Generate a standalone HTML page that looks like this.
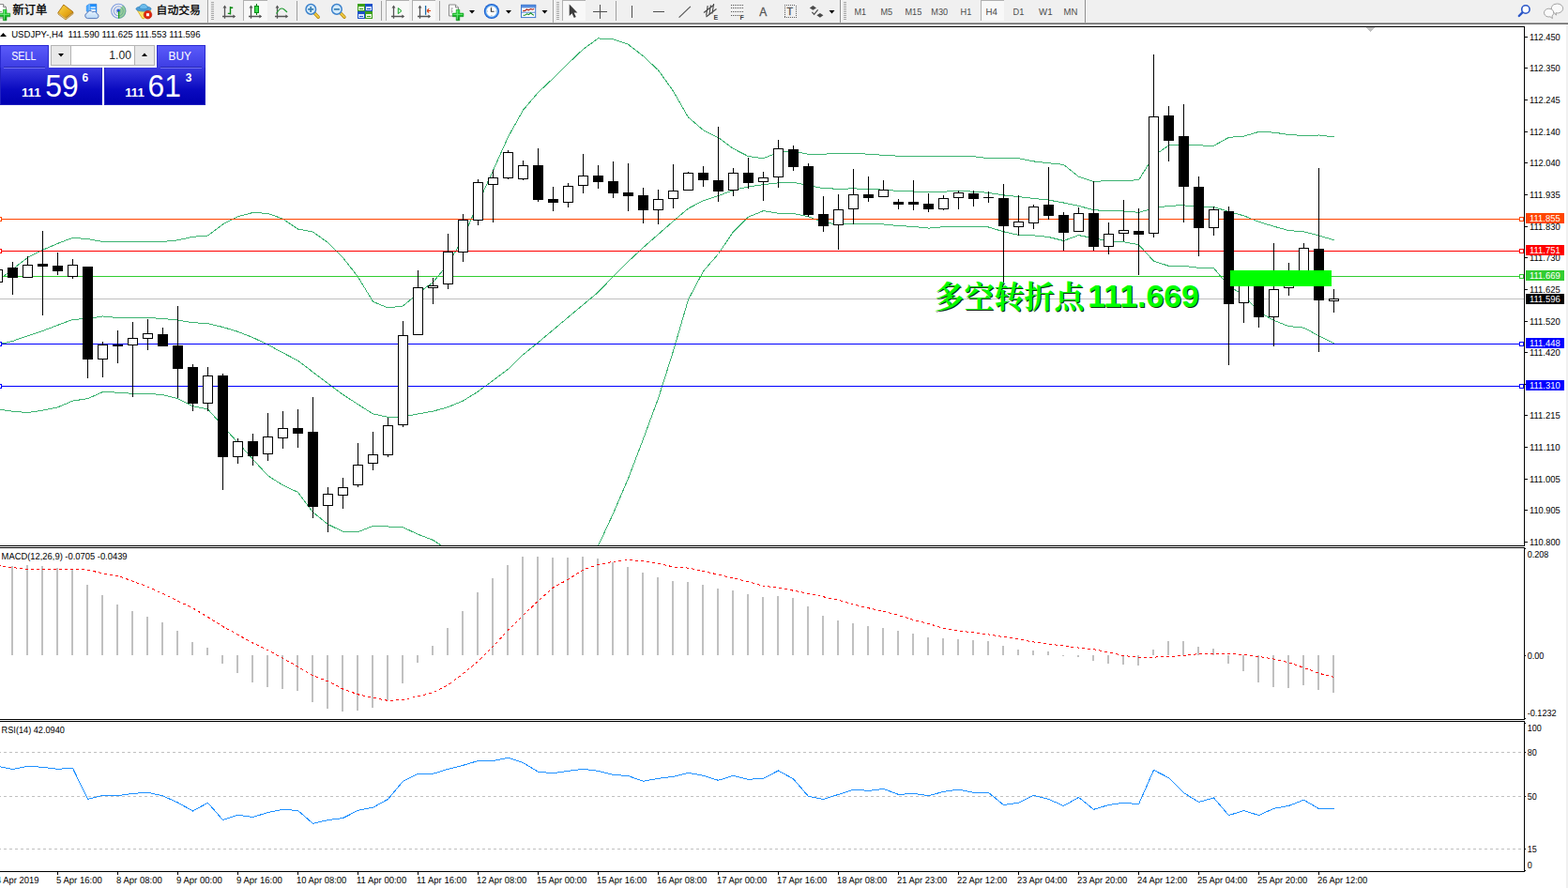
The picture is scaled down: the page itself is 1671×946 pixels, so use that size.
<!DOCTYPE html>
<html><head><meta charset="utf-8"><title>USDJPY H4</title>
<style>
html,body{margin:0;padding:0;background:#fff;overflow:hidden}
body{width:1671px;height:946px;position:relative;font-family:"Liberation Sans",sans-serif}
.t{position:absolute;font-family:"Liberation Sans",sans-serif;line-height:1;white-space:pre}
</style></head><body>
<div style="position:absolute;left:0;top:0;width:1671px;height:24px;background:#f0f0f0"></div>
<div style="position:absolute;left:0;top:24px;width:1671px;height:1px;background:#a0a0a0"></div>
<div style="position:absolute;left:0;top:25px;width:1671px;height:1px;background:#696969"></div>
<svg width="1671" height="946" viewBox="0 0 1671 946" style="position:absolute;left:0;top:0"><defs><clipPath id="cm"><rect x="0" y="29" width="1624" height="552"/></clipPath><clipPath id="c2"><rect x="0" y="584" width="1624" height="182"/></clipPath><clipPath id="c3"><rect x="0" y="769" width="1624" height="159"/></clipPath></defs><g shape-rendering="crispEdges"><rect x="0" y="28" width="1625" height="1" fill="#000"/><rect x="1624" y="28" width="1" height="554" fill="#000"/><rect x="0" y="581" width="1625" height="1" fill="#000"/><rect x="0" y="583" width="1625" height="1" fill="#000"/><rect x="1624" y="583" width="1" height="184" fill="#000"/><rect x="0" y="766" width="1625" height="1" fill="#000"/><rect x="0" y="768" width="1625" height="1" fill="#000"/><rect x="1624" y="768" width="1" height="161" fill="#000"/><rect x="0" y="928" width="1625" height="1" fill="#000"/><rect x="1669" y="26" width="2" height="920" fill="#f0f0f0"/><g clip-path="url(#cm)"><rect x="0" y="318" width="1624" height="1" fill="#C0C0C0"/><polyline points="-2.5,299.3 13.5,286.8 29.5,274.4 45.5,266.3 61.5,259.4 77.5,253.3 93.5,254.6 109.5,257.5 125.5,257.5 141.5,257.5 157.5,257.5 173.5,257.5 189.5,255.8 205.5,252.3 221.5,251.0 237.5,238.9 253.5,230.7 269.5,226.5 285.5,227.4 301.5,233.2 317.5,244.0 333.5,247.1 349.5,258.5 365.5,274.5 381.5,294.9 397.5,321.4 413.5,327.9 429.5,326.0 445.5,312.5 461.5,300.7 477.5,281.5 493.5,253.6 509.5,216.6 525.5,181.6 541.5,145.9 557.5,117.3 573.5,98.5 589.5,83.4 605.5,67.6 621.5,52.4 637.5,40.9 653.5,41.9 669.5,47.3 685.5,59.8 701.5,74.7 717.5,97.1 733.5,125.0 749.5,138.6 765.5,146.6 781.5,158.4 797.5,166.6 813.5,168.7 829.5,162.4 845.5,160.9 861.5,164.3 877.5,164.1 893.5,163.7 909.5,163.7 925.5,164.1 941.5,165.4 957.5,166.2 973.5,166.4 989.5,166.2 1005.5,166.5 1021.5,166.3 1037.5,166.6 1053.5,168.8 1069.5,168.9 1085.5,168.7 1101.5,171.9 1117.5,173.7 1133.5,175.4 1149.5,188.2 1165.5,193.5 1181.5,192.5 1197.5,192.2 1213.5,191.9 1229.5,166.1 1245.5,154.9 1261.5,154.5 1277.5,154.9 1293.5,155.3 1309.5,146.4 1325.5,145.1 1341.5,140.4 1357.5,141.1 1373.5,143.5 1389.5,144.5 1405.5,144.0 1421.5,146.0" fill="none" stroke="#3CB371" stroke-width="1"/><polyline points="-2.5,367.2 13.5,363.4 29.5,357.7 45.5,352.5 61.5,346.4 77.5,340.4 93.5,339.5 109.5,337.0 125.5,338.5 141.5,338.5 157.5,338.5 173.5,339.5 189.5,341.0 205.5,343.7 221.5,344.6 237.5,348.5 253.5,353.3 269.5,359.6 285.5,367.2 301.5,375.9 317.5,384.2 333.5,396.4 349.5,408.6 365.5,420.4 381.5,430.8 397.5,440.9 413.5,444.4 429.5,443.9 445.5,440.9 461.5,438.1 477.5,433.7 493.5,427.0 509.5,417.1 525.5,405.2 541.5,393.3 557.5,377.8 573.5,364.9 589.5,351.4 605.5,338.0 621.5,324.6 637.5,311.2 653.5,294.5 669.5,278.6 685.5,263.7 701.5,249.6 717.5,235.6 733.5,222.1 749.5,213.8 765.5,208.6 781.5,202.6 797.5,198.9 813.5,196.6 829.5,194.8 845.5,194.2 861.5,197.5 877.5,200.7 893.5,201.2 909.5,200.9 925.5,201.4 941.5,202.2 957.5,203.4 973.5,204.0 989.5,204.7 1005.5,204.1 1021.5,203.7 1037.5,204.1 1053.5,205.4 1069.5,207.9 1085.5,209.6 1101.5,211.4 1117.5,213.1 1133.5,216.0 1149.5,219.4 1165.5,223.7 1181.5,224.7 1197.5,225.0 1213.5,226.3 1229.5,222.1 1245.5,219.1 1261.5,218.9 1277.5,220.1 1293.5,220.5 1309.5,225.5 1325.5,229.8 1341.5,236.3 1357.5,241.2 1373.5,245.6 1389.5,246.8 1405.5,250.9 1421.5,255.8" fill="none" stroke="#3CB371" stroke-width="1"/><polyline points="-2.5,435.9 13.5,438.2 29.5,439.5 45.5,437.2 61.5,433.9 77.5,427.1 93.5,424.6 109.5,417.6 125.5,418.1 141.5,419.4 157.5,419.4 173.5,420.6 189.5,424.6 205.5,432.7 221.5,435.9 237.5,454.0 253.5,471.6 269.5,489.2 285.5,506.8 301.5,516.9 317.5,524.4 333.5,545.7 349.5,558.6 365.5,566.3 381.5,566.7 397.5,560.3 413.5,561.0 429.5,561.8 445.5,569.2 461.5,575.4 477.5,585.9 493.5,600.4 509.5,617.7 525.5,628.7 541.5,640.6 557.5,638.3 573.5,631.2 589.5,619.3 605.5,608.4 621.5,596.8 637.5,581.5 653.5,547.1 669.5,509.8 685.5,467.7 701.5,424.5 717.5,374.0 733.5,319.2 749.5,289.0 765.5,270.5 781.5,246.8 797.5,231.2 813.5,224.6 829.5,227.3 845.5,227.5 861.5,230.7 877.5,237.2 893.5,238.8 909.5,238.0 925.5,238.8 941.5,239.0 957.5,240.5 973.5,241.5 989.5,243.1 1005.5,241.7 1021.5,241.2 1037.5,241.7 1053.5,242.0 1069.5,246.8 1085.5,250.4 1101.5,250.8 1117.5,252.5 1133.5,256.5 1149.5,250.6 1165.5,253.8 1181.5,256.9 1197.5,257.8 1213.5,260.7 1229.5,278.2 1245.5,283.3 1261.5,283.3 1277.5,285.3 1293.5,285.7 1309.5,304.6 1325.5,314.5 1341.5,332.3 1357.5,341.4 1373.5,347.6 1389.5,349.1 1405.5,357.8 1421.5,365.6" fill="none" stroke="#3CB371" stroke-width="1"/><rect x="0" y="233" width="1624" height="1" fill="#FF4500"/><rect x="0" y="267" width="1624" height="1" fill="#FF0000"/><rect x="0" y="294" width="1624" height="1" fill="#32CD32"/><rect x="0" y="366" width="1624" height="1" fill="#0000FF"/><rect x="0" y="411" width="1624" height="1" fill="#0000FF"/><rect x="-3" y="283" width="1" height="22" fill="#000"/><rect x="-8" y="287" width="11" height="14" fill="#000"/><rect x="-7" y="288" width="9" height="12" fill="#fff"/><rect x="13" y="279" width="1" height="35" fill="#000"/><rect x="8" y="285" width="11" height="11" fill="#000"/><rect x="29" y="273" width="1" height="23" fill="#000"/><rect x="24" y="282" width="11" height="14" fill="#000"/><rect x="25" y="283" width="9" height="12" fill="#fff"/><rect x="45" y="246" width="1" height="90" fill="#000"/><rect x="40" y="281" width="11" height="3" fill="#000"/><rect x="61" y="269" width="1" height="24" fill="#000"/><rect x="56" y="283" width="11" height="6" fill="#000"/><rect x="77" y="276" width="1" height="21" fill="#000"/><rect x="72" y="282" width="11" height="13" fill="#000"/><rect x="73" y="283" width="9" height="11" fill="#fff"/><rect x="93" y="284" width="1" height="119" fill="#000"/><rect x="88" y="284" width="11" height="99" fill="#000"/><rect x="109" y="364" width="1" height="38" fill="#000"/><rect x="104" y="367" width="11" height="16" fill="#000"/><rect x="105" y="368" width="9" height="14" fill="#fff"/><rect x="125" y="352" width="1" height="35" fill="#000"/><rect x="120" y="367" width="11" height="2" fill="#000"/><rect x="141" y="343" width="1" height="80" fill="#000"/><rect x="136" y="360" width="11" height="8" fill="#000"/><rect x="137" y="361" width="9" height="6" fill="#fff"/><rect x="157" y="340" width="1" height="33" fill="#000"/><rect x="152" y="355" width="11" height="6" fill="#000"/><rect x="153" y="356" width="9" height="4" fill="#fff"/><rect x="173" y="349" width="1" height="20" fill="#000"/><rect x="168" y="356" width="11" height="13" fill="#000"/><rect x="189" y="326" width="1" height="98" fill="#000"/><rect x="184" y="368" width="11" height="25" fill="#000"/><rect x="205" y="388" width="1" height="50" fill="#000"/><rect x="200" y="391" width="11" height="39" fill="#000"/><rect x="221" y="391" width="1" height="47" fill="#000"/><rect x="216" y="400" width="11" height="30" fill="#000"/><rect x="217" y="401" width="9" height="28" fill="#fff"/><rect x="237" y="398" width="1" height="124" fill="#000"/><rect x="232" y="400" width="11" height="87" fill="#000"/><rect x="253" y="467" width="1" height="27" fill="#000"/><rect x="248" y="470" width="11" height="17" fill="#000"/><rect x="249" y="471" width="9" height="15" fill="#fff"/><rect x="269" y="462" width="1" height="34" fill="#000"/><rect x="264" y="470" width="11" height="16" fill="#000"/><rect x="285" y="440" width="1" height="51" fill="#000"/><rect x="280" y="465" width="11" height="19" fill="#000"/><rect x="281" y="466" width="9" height="17" fill="#fff"/><rect x="301" y="438" width="1" height="40" fill="#000"/><rect x="296" y="456" width="11" height="11" fill="#000"/><rect x="297" y="457" width="9" height="9" fill="#fff"/><rect x="317" y="436" width="1" height="41" fill="#000"/><rect x="312" y="456" width="11" height="6" fill="#000"/><rect x="333" y="423" width="1" height="129" fill="#000"/><rect x="328" y="460" width="11" height="80" fill="#000"/><rect x="349" y="519" width="1" height="48" fill="#000"/><rect x="344" y="526" width="11" height="13" fill="#000"/><rect x="345" y="527" width="9" height="11" fill="#fff"/><rect x="365" y="509" width="1" height="33" fill="#000"/><rect x="360" y="519" width="11" height="9" fill="#000"/><rect x="361" y="520" width="9" height="7" fill="#fff"/><rect x="381" y="472" width="1" height="47" fill="#000"/><rect x="376" y="495" width="11" height="22" fill="#000"/><rect x="377" y="496" width="9" height="20" fill="#fff"/><rect x="397" y="460" width="1" height="41" fill="#000"/><rect x="392" y="484" width="11" height="10" fill="#000"/><rect x="393" y="485" width="9" height="8" fill="#fff"/><rect x="413" y="445" width="1" height="42" fill="#000"/><rect x="408" y="453" width="11" height="32" fill="#000"/><rect x="409" y="454" width="9" height="30" fill="#fff"/><rect x="429" y="342" width="1" height="113" fill="#000"/><rect x="424" y="357" width="11" height="96" fill="#000"/><rect x="425" y="358" width="9" height="94" fill="#fff"/><rect x="445" y="288" width="1" height="69" fill="#000"/><rect x="440" y="306" width="11" height="51" fill="#000"/><rect x="441" y="307" width="9" height="49" fill="#fff"/><rect x="461" y="296" width="1" height="28" fill="#000"/><rect x="456" y="304" width="11" height="3" fill="#000"/><rect x="457" y="305" width="9" height="1" fill="#fff"/><rect x="477" y="249" width="1" height="59" fill="#000"/><rect x="472" y="268" width="11" height="35" fill="#000"/><rect x="473" y="269" width="9" height="33" fill="#fff"/><rect x="493" y="228" width="1" height="51" fill="#000"/><rect x="488" y="234" width="11" height="35" fill="#000"/><rect x="489" y="235" width="9" height="33" fill="#fff"/><rect x="509" y="191" width="1" height="49" fill="#000"/><rect x="504" y="194" width="11" height="41" fill="#000"/><rect x="505" y="195" width="9" height="39" fill="#fff"/><rect x="525" y="181" width="1" height="56" fill="#000"/><rect x="520" y="189" width="11" height="8" fill="#000"/><rect x="521" y="190" width="9" height="6" fill="#fff"/><rect x="541" y="160" width="1" height="31" fill="#000"/><rect x="536" y="162" width="11" height="28" fill="#000"/><rect x="537" y="163" width="9" height="26" fill="#fff"/><rect x="557" y="171" width="1" height="21" fill="#000"/><rect x="552" y="176" width="11" height="15" fill="#000"/><rect x="553" y="177" width="9" height="13" fill="#fff"/><rect x="573" y="158" width="1" height="57" fill="#000"/><rect x="568" y="176" width="11" height="37" fill="#000"/><rect x="589" y="199" width="1" height="26" fill="#000"/><rect x="584" y="212" width="11" height="4" fill="#000"/><rect x="605" y="195" width="1" height="26" fill="#000"/><rect x="600" y="198" width="11" height="18" fill="#000"/><rect x="601" y="199" width="9" height="16" fill="#fff"/><rect x="621" y="164" width="1" height="42" fill="#000"/><rect x="616" y="187" width="11" height="11" fill="#000"/><rect x="617" y="188" width="9" height="9" fill="#fff"/><rect x="637" y="176" width="1" height="25" fill="#000"/><rect x="632" y="187" width="11" height="7" fill="#000"/><rect x="653" y="172" width="1" height="39" fill="#000"/><rect x="648" y="193" width="11" height="13" fill="#000"/><rect x="669" y="174" width="1" height="51" fill="#000"/><rect x="664" y="205" width="11" height="4" fill="#000"/><rect x="685" y="200" width="1" height="38" fill="#000"/><rect x="680" y="208" width="11" height="16" fill="#000"/><rect x="701" y="202" width="1" height="37" fill="#000"/><rect x="696" y="212" width="11" height="12" fill="#000"/><rect x="697" y="213" width="9" height="10" fill="#fff"/><rect x="717" y="175" width="1" height="47" fill="#000"/><rect x="712" y="203" width="11" height="9" fill="#000"/><rect x="713" y="204" width="9" height="7" fill="#fff"/><rect x="733" y="183" width="1" height="20" fill="#000"/><rect x="728" y="184" width="11" height="19" fill="#000"/><rect x="729" y="185" width="9" height="17" fill="#fff"/><rect x="749" y="177" width="1" height="22" fill="#000"/><rect x="744" y="184" width="11" height="8" fill="#000"/><rect x="765" y="135" width="1" height="80" fill="#000"/><rect x="760" y="192" width="11" height="12" fill="#000"/><rect x="781" y="179" width="1" height="30" fill="#000"/><rect x="776" y="184" width="11" height="19" fill="#000"/><rect x="777" y="185" width="9" height="17" fill="#fff"/><rect x="797" y="168" width="1" height="33" fill="#000"/><rect x="792" y="184" width="11" height="11" fill="#000"/><rect x="813" y="183" width="1" height="31" fill="#000"/><rect x="808" y="189" width="11" height="5" fill="#000"/><rect x="809" y="190" width="9" height="3" fill="#fff"/><rect x="829" y="149" width="1" height="51" fill="#000"/><rect x="824" y="158" width="11" height="31" fill="#000"/><rect x="825" y="159" width="9" height="29" fill="#fff"/><rect x="845" y="155" width="1" height="27" fill="#000"/><rect x="840" y="159" width="11" height="19" fill="#000"/><rect x="861" y="174" width="1" height="57" fill="#000"/><rect x="856" y="177" width="11" height="52" fill="#000"/><rect x="877" y="209" width="1" height="38" fill="#000"/><rect x="872" y="228" width="11" height="13" fill="#000"/><rect x="893" y="207" width="1" height="59" fill="#000"/><rect x="888" y="223" width="11" height="17" fill="#000"/><rect x="889" y="224" width="9" height="15" fill="#fff"/><rect x="909" y="180" width="1" height="59" fill="#000"/><rect x="904" y="207" width="11" height="16" fill="#000"/><rect x="905" y="208" width="9" height="14" fill="#fff"/><rect x="925" y="188" width="1" height="27" fill="#000"/><rect x="920" y="207" width="11" height="4" fill="#000"/><rect x="941" y="192" width="1" height="18" fill="#000"/><rect x="936" y="202" width="11" height="8" fill="#000"/><rect x="937" y="203" width="9" height="6" fill="#fff"/><rect x="957" y="212" width="1" height="11" fill="#000"/><rect x="952" y="215" width="11" height="3" fill="#000"/><rect x="973" y="192" width="1" height="32" fill="#000"/><rect x="968" y="215" width="11" height="3" fill="#000"/><rect x="989" y="206" width="1" height="20" fill="#000"/><rect x="984" y="217" width="11" height="6" fill="#000"/><rect x="1005" y="208" width="1" height="16" fill="#000"/><rect x="1000" y="211" width="11" height="12" fill="#000"/><rect x="1001" y="212" width="9" height="10" fill="#fff"/><rect x="1021" y="203" width="1" height="20" fill="#000"/><rect x="1016" y="205" width="11" height="6" fill="#000"/><rect x="1017" y="206" width="9" height="4" fill="#fff"/><rect x="1037" y="203" width="1" height="17" fill="#000"/><rect x="1032" y="206" width="11" height="6" fill="#000"/><rect x="1053" y="204" width="1" height="12" fill="#000"/><rect x="1048" y="210" width="11" height="1" fill="#000"/><rect x="1069" y="196" width="1" height="105" fill="#000"/><rect x="1064" y="211" width="11" height="30" fill="#000"/><rect x="1085" y="208" width="1" height="43" fill="#000"/><rect x="1080" y="236" width="11" height="6" fill="#000"/><rect x="1081" y="237" width="9" height="4" fill="#fff"/><rect x="1101" y="218" width="1" height="26" fill="#000"/><rect x="1096" y="220" width="11" height="18" fill="#000"/><rect x="1097" y="221" width="9" height="16" fill="#fff"/><rect x="1117" y="178" width="1" height="56" fill="#000"/><rect x="1112" y="218" width="11" height="12" fill="#000"/><rect x="1133" y="226" width="1" height="41" fill="#000"/><rect x="1128" y="229" width="11" height="19" fill="#000"/><rect x="1149" y="221" width="1" height="26" fill="#000"/><rect x="1144" y="227" width="11" height="20" fill="#000"/><rect x="1145" y="228" width="9" height="18" fill="#fff"/><rect x="1165" y="193" width="1" height="74" fill="#000"/><rect x="1160" y="227" width="11" height="36" fill="#000"/><rect x="1181" y="237" width="1" height="34" fill="#000"/><rect x="1176" y="249" width="11" height="14" fill="#000"/><rect x="1177" y="250" width="9" height="12" fill="#fff"/><rect x="1197" y="213" width="1" height="44" fill="#000"/><rect x="1192" y="245" width="11" height="4" fill="#000"/><rect x="1193" y="246" width="9" height="2" fill="#fff"/><rect x="1213" y="222" width="1" height="71" fill="#000"/><rect x="1208" y="246" width="11" height="4" fill="#000"/><rect x="1229" y="58" width="1" height="195" fill="#000"/><rect x="1224" y="124" width="11" height="125" fill="#000"/><rect x="1225" y="125" width="9" height="123" fill="#fff"/><rect x="1245" y="113" width="1" height="59" fill="#000"/><rect x="1240" y="123" width="11" height="27" fill="#000"/><rect x="1261" y="111" width="1" height="126" fill="#000"/><rect x="1256" y="145" width="11" height="54" fill="#000"/><rect x="1277" y="188" width="1" height="85" fill="#000"/><rect x="1272" y="199" width="11" height="44" fill="#000"/><rect x="1293" y="220" width="1" height="31" fill="#000"/><rect x="1288" y="223" width="11" height="20" fill="#000"/><rect x="1289" y="224" width="9" height="18" fill="#fff"/><rect x="1309" y="220" width="1" height="169" fill="#000"/><rect x="1304" y="225" width="11" height="99" fill="#000"/><rect x="1325" y="297" width="1" height="47" fill="#000"/><rect x="1320" y="297" width="11" height="26" fill="#000"/><rect x="1321" y="298" width="9" height="24" fill="#fff"/><rect x="1341" y="296" width="1" height="53" fill="#000"/><rect x="1336" y="296" width="11" height="42" fill="#000"/><rect x="1357" y="259" width="1" height="110" fill="#000"/><rect x="1352" y="308" width="11" height="30" fill="#000"/><rect x="1353" y="309" width="9" height="28" fill="#fff"/><rect x="1373" y="280" width="1" height="35" fill="#000"/><rect x="1368" y="297" width="11" height="10" fill="#000"/><rect x="1369" y="298" width="9" height="8" fill="#fff"/><rect x="1389" y="259" width="1" height="39" fill="#000"/><rect x="1384" y="264" width="11" height="34" fill="#000"/><rect x="1385" y="265" width="9" height="32" fill="#fff"/><rect x="1405" y="179" width="1" height="196" fill="#000"/><rect x="1400" y="265" width="11" height="55" fill="#000"/><rect x="1421" y="308" width="1" height="25" fill="#000"/><rect x="1416" y="318" width="11" height="3" fill="#000"/><rect x="1417" y="319" width="9" height="1" fill="#fff"/><rect x="-3" y="231" width="5" height="5" fill="#FF4500"/><rect x="-2" y="232" width="3" height="3" fill="#fff"/><rect x="1619" y="231" width="5" height="5" fill="#FF4500"/><rect x="1620" y="232" width="3" height="3" fill="#fff"/><rect x="-3" y="265" width="5" height="5" fill="#FF0000"/><rect x="-2" y="266" width="3" height="3" fill="#fff"/><rect x="1619" y="265" width="5" height="5" fill="#FF0000"/><rect x="1620" y="266" width="3" height="3" fill="#fff"/><rect x="1619" y="292" width="5" height="5" fill="#32CD32"/><rect x="1620" y="293" width="3" height="3" fill="#fff"/><rect x="-3" y="364" width="5" height="5" fill="#0000FF"/><rect x="-2" y="365" width="3" height="3" fill="#fff"/><rect x="1619" y="364" width="5" height="5" fill="#0000FF"/><rect x="1620" y="365" width="3" height="3" fill="#fff"/><rect x="-3" y="409" width="5" height="5" fill="#0000FF"/><rect x="-2" y="410" width="3" height="3" fill="#fff"/><rect x="1619" y="409" width="5" height="5" fill="#0000FF"/><rect x="1620" y="410" width="3" height="3" fill="#fff"/><rect x="1311" y="288" width="108" height="17" fill="#00FF00"/></g><rect x="1456" y="29" width="9" height="1" fill="#C0C0C0"/><rect x="1457" y="30" width="7" height="1" fill="#C0C0C0"/><rect x="1458" y="31" width="5" height="1" fill="#C0C0C0"/><rect x="1459" y="32" width="3" height="1" fill="#C0C0C0"/><rect x="1460" y="33" width="1" height="1" fill="#C0C0C0"/></g><g font-family="Liberation Sans, sans-serif" font-size="10.1" fill="#000" style="text-rendering:geometricPrecision"><rect x="1625" y="39" width="3" height="1" fill="#000" shape-rendering="crispEdges"/><text x="1630" y="43" textLength="32.7" lengthAdjust="spacingAndGlyphs" xml:space="preserve">112.450</text><rect x="1625" y="72" width="3" height="1" fill="#000" shape-rendering="crispEdges"/><text x="1630" y="76" textLength="32.7" lengthAdjust="spacingAndGlyphs" xml:space="preserve">112.350</text><rect x="1625" y="106" width="3" height="1" fill="#000" shape-rendering="crispEdges"/><text x="1630" y="110" textLength="32.7" lengthAdjust="spacingAndGlyphs" xml:space="preserve">112.245</text><rect x="1625" y="140" width="3" height="1" fill="#000" shape-rendering="crispEdges"/><text x="1630" y="144" textLength="32.7" lengthAdjust="spacingAndGlyphs" xml:space="preserve">112.140</text><rect x="1625" y="173" width="3" height="1" fill="#000" shape-rendering="crispEdges"/><text x="1630" y="177" textLength="32.7" lengthAdjust="spacingAndGlyphs" xml:space="preserve">112.040</text><rect x="1625" y="207" width="3" height="1" fill="#000" shape-rendering="crispEdges"/><text x="1630" y="211" textLength="32.7" lengthAdjust="spacingAndGlyphs" xml:space="preserve">111.935</text><rect x="1625" y="241" width="3" height="1" fill="#000" shape-rendering="crispEdges"/><text x="1630" y="245" textLength="32.7" lengthAdjust="spacingAndGlyphs" xml:space="preserve">111.830</text><rect x="1625" y="274" width="3" height="1" fill="#000" shape-rendering="crispEdges"/><text x="1630" y="278" textLength="32.7" lengthAdjust="spacingAndGlyphs" xml:space="preserve">111.730</text><rect x="1625" y="308" width="3" height="1" fill="#000" shape-rendering="crispEdges"/><text x="1630" y="312" textLength="32.7" lengthAdjust="spacingAndGlyphs" xml:space="preserve">111.625</text><rect x="1625" y="342" width="3" height="1" fill="#000" shape-rendering="crispEdges"/><text x="1630" y="346" textLength="32.7" lengthAdjust="spacingAndGlyphs" xml:space="preserve">111.520</text><rect x="1625" y="375" width="3" height="1" fill="#000" shape-rendering="crispEdges"/><text x="1630" y="379" textLength="32.7" lengthAdjust="spacingAndGlyphs" xml:space="preserve">111.420</text><rect x="1625" y="409" width="3" height="1" fill="#000" shape-rendering="crispEdges"/><text x="1630" y="413" textLength="32.7" lengthAdjust="spacingAndGlyphs" xml:space="preserve">111.315</text><rect x="1625" y="442" width="3" height="1" fill="#000" shape-rendering="crispEdges"/><text x="1630" y="446" textLength="32.7" lengthAdjust="spacingAndGlyphs" xml:space="preserve">111.215</text><rect x="1625" y="476" width="3" height="1" fill="#000" shape-rendering="crispEdges"/><text x="1630" y="480" textLength="32.7" lengthAdjust="spacingAndGlyphs" xml:space="preserve">111.110</text><rect x="1625" y="510" width="3" height="1" fill="#000" shape-rendering="crispEdges"/><text x="1630" y="514" textLength="32.7" lengthAdjust="spacingAndGlyphs" xml:space="preserve">111.005</text><rect x="1625" y="543" width="3" height="1" fill="#000" shape-rendering="crispEdges"/><text x="1630" y="547" textLength="32.7" lengthAdjust="spacingAndGlyphs" xml:space="preserve">110.905</text><rect x="1625" y="577" width="3" height="1" fill="#000" shape-rendering="crispEdges"/><text x="1630" y="581" textLength="32.7" lengthAdjust="spacingAndGlyphs" xml:space="preserve">110.800</text><rect x="1626" y="227" width="41" height="11" fill="#FF4500" shape-rendering="crispEdges"/><text x="1630" y="236" textLength="32.7" lengthAdjust="spacingAndGlyphs" fill="#fff" xml:space="preserve">111.855</text><rect x="1626" y="261" width="41" height="11" fill="#FF0000" shape-rendering="crispEdges"/><text x="1630" y="270" textLength="32.7" lengthAdjust="spacingAndGlyphs" fill="#fff" xml:space="preserve">111.751</text><rect x="1626" y="288" width="41" height="11" fill="#32CD32" shape-rendering="crispEdges"/><text x="1630" y="297" textLength="32.7" lengthAdjust="spacingAndGlyphs" fill="#fff" xml:space="preserve">111.669</text><rect x="1626" y="360" width="41" height="11" fill="#0000FF" shape-rendering="crispEdges"/><text x="1630" y="369" textLength="32.7" lengthAdjust="spacingAndGlyphs" fill="#fff" xml:space="preserve">111.448</text><rect x="1626" y="405" width="41" height="11" fill="#0000FF" shape-rendering="crispEdges"/><text x="1630" y="414" textLength="32.7" lengthAdjust="spacingAndGlyphs" fill="#fff" xml:space="preserve">111.310</text><rect x="1626" y="313" width="41" height="11" fill="#000000" shape-rendering="crispEdges"/><text x="1630" y="322" textLength="32.7" lengthAdjust="spacingAndGlyphs" fill="#fff" xml:space="preserve">111.596</text><text x="1627.7" y="594" textLength="22.7" lengthAdjust="spacingAndGlyphs" xml:space="preserve">0.208</text><text x="1627.7" y="702" textLength="17.7" lengthAdjust="spacingAndGlyphs" xml:space="preserve">0.00</text><text x="1627.7" y="763" textLength="31.0" lengthAdjust="spacingAndGlyphs" xml:space="preserve">-0.1232</text><text x="1627.7" y="779" textLength="15.0" lengthAdjust="spacingAndGlyphs" xml:space="preserve">100</text><text x="1627.7" y="805" textLength="10.0" lengthAdjust="spacingAndGlyphs" xml:space="preserve">80</text><text x="1627.7" y="852" textLength="10.0" lengthAdjust="spacingAndGlyphs" xml:space="preserve">50</text><text x="1627.7" y="908" textLength="10.0" lengthAdjust="spacingAndGlyphs" xml:space="preserve">15</text><text x="1627.7" y="925" textLength="5.0" lengthAdjust="spacingAndGlyphs" xml:space="preserve">0</text><rect x="1625" y="584" width="1" height="1" fill="#000" shape-rendering="crispEdges"/><rect x="1625" y="698" width="1" height="1" fill="#000" shape-rendering="crispEdges"/><rect x="1625" y="765" width="1" height="1" fill="#000" shape-rendering="crispEdges"/><rect x="1625" y="770" width="1" height="1" fill="#000" shape-rendering="crispEdges"/><rect x="1625" y="801" width="1" height="1" fill="#000" shape-rendering="crispEdges"/><rect x="1625" y="848" width="1" height="1" fill="#000" shape-rendering="crispEdges"/><rect x="1625" y="904" width="1" height="1" fill="#000" shape-rendering="crispEdges"/><rect x="1625" y="927" width="1" height="1" fill="#000" shape-rendering="crispEdges"/><path d="M0 39 L3.5 35 L7 39 Z" fill="#000"/><text x="12.2" y="40" textLength="201.3" lengthAdjust="spacingAndGlyphs" xml:space="preserve">USDJPY-,H4  111.590 111.625 111.553 111.596</text><text x="1.6" y="596" textLength="134" lengthAdjust="spacingAndGlyphs" xml:space="preserve">MACD(12,26,9) -0.0705 -0.0439</text><text x="1.6" y="781" textLength="67.3" lengthAdjust="spacingAndGlyphs" xml:space="preserve">RSI(14) 42.0940</text><rect x="-3" y="929" width="1" height="3" fill="#000" shape-rendering="crispEdges"/><text x="-4" y="941" textLength="45.5" lengthAdjust="spacingAndGlyphs" xml:space="preserve">4 Apr 2019</text><rect x="61" y="929" width="1" height="3" fill="#000" shape-rendering="crispEdges"/><text x="60" y="941" textLength="48.8" lengthAdjust="spacingAndGlyphs" xml:space="preserve">5 Apr 16:00</text><rect x="125" y="929" width="1" height="3" fill="#000" shape-rendering="crispEdges"/><text x="124" y="941" textLength="48.8" lengthAdjust="spacingAndGlyphs" xml:space="preserve">8 Apr 08:00</text><rect x="189" y="929" width="1" height="3" fill="#000" shape-rendering="crispEdges"/><text x="188" y="941" textLength="48.8" lengthAdjust="spacingAndGlyphs" xml:space="preserve">9 Apr 00:00</text><rect x="253" y="929" width="1" height="3" fill="#000" shape-rendering="crispEdges"/><text x="252" y="941" textLength="48.8" lengthAdjust="spacingAndGlyphs" xml:space="preserve">9 Apr 16:00</text><rect x="317" y="929" width="1" height="3" fill="#000" shape-rendering="crispEdges"/><text x="316" y="941" textLength="53.2" lengthAdjust="spacingAndGlyphs" xml:space="preserve">10 Apr 08:00</text><rect x="381" y="929" width="1" height="3" fill="#000" shape-rendering="crispEdges"/><text x="380" y="941" textLength="53.2" lengthAdjust="spacingAndGlyphs" xml:space="preserve">11 Apr 00:00</text><rect x="445" y="929" width="1" height="3" fill="#000" shape-rendering="crispEdges"/><text x="444" y="941" textLength="53.2" lengthAdjust="spacingAndGlyphs" xml:space="preserve">11 Apr 16:00</text><rect x="509" y="929" width="1" height="3" fill="#000" shape-rendering="crispEdges"/><text x="508" y="941" textLength="53.2" lengthAdjust="spacingAndGlyphs" xml:space="preserve">12 Apr 08:00</text><rect x="573" y="929" width="1" height="3" fill="#000" shape-rendering="crispEdges"/><text x="572" y="941" textLength="53.2" lengthAdjust="spacingAndGlyphs" xml:space="preserve">15 Apr 00:00</text><rect x="637" y="929" width="1" height="3" fill="#000" shape-rendering="crispEdges"/><text x="636" y="941" textLength="53.2" lengthAdjust="spacingAndGlyphs" xml:space="preserve">15 Apr 16:00</text><rect x="701" y="929" width="1" height="3" fill="#000" shape-rendering="crispEdges"/><text x="700" y="941" textLength="53.2" lengthAdjust="spacingAndGlyphs" xml:space="preserve">16 Apr 08:00</text><rect x="765" y="929" width="1" height="3" fill="#000" shape-rendering="crispEdges"/><text x="764" y="941" textLength="53.2" lengthAdjust="spacingAndGlyphs" xml:space="preserve">17 Apr 00:00</text><rect x="829" y="929" width="1" height="3" fill="#000" shape-rendering="crispEdges"/><text x="828" y="941" textLength="53.2" lengthAdjust="spacingAndGlyphs" xml:space="preserve">17 Apr 16:00</text><rect x="893" y="929" width="1" height="3" fill="#000" shape-rendering="crispEdges"/><text x="892" y="941" textLength="53.2" lengthAdjust="spacingAndGlyphs" xml:space="preserve">18 Apr 08:00</text><rect x="957" y="929" width="1" height="3" fill="#000" shape-rendering="crispEdges"/><text x="956" y="941" textLength="53.2" lengthAdjust="spacingAndGlyphs" xml:space="preserve">21 Apr 23:00</text><rect x="1021" y="929" width="1" height="3" fill="#000" shape-rendering="crispEdges"/><text x="1020" y="941" textLength="53.2" lengthAdjust="spacingAndGlyphs" xml:space="preserve">22 Apr 12:00</text><rect x="1085" y="929" width="1" height="3" fill="#000" shape-rendering="crispEdges"/><text x="1084" y="941" textLength="53.2" lengthAdjust="spacingAndGlyphs" xml:space="preserve">23 Apr 04:00</text><rect x="1149" y="929" width="1" height="3" fill="#000" shape-rendering="crispEdges"/><text x="1148" y="941" textLength="53.2" lengthAdjust="spacingAndGlyphs" xml:space="preserve">23 Apr 20:00</text><rect x="1213" y="929" width="1" height="3" fill="#000" shape-rendering="crispEdges"/><text x="1212" y="941" textLength="53.2" lengthAdjust="spacingAndGlyphs" xml:space="preserve">24 Apr 12:00</text><rect x="1277" y="929" width="1" height="3" fill="#000" shape-rendering="crispEdges"/><text x="1276" y="941" textLength="53.2" lengthAdjust="spacingAndGlyphs" xml:space="preserve">25 Apr 04:00</text><rect x="1341" y="929" width="1" height="3" fill="#000" shape-rendering="crispEdges"/><text x="1340" y="941" textLength="53.2" lengthAdjust="spacingAndGlyphs" xml:space="preserve">25 Apr 20:00</text><rect x="1405" y="929" width="1" height="3" fill="#000" shape-rendering="crispEdges"/><text x="1404" y="941" textLength="53.2" lengthAdjust="spacingAndGlyphs" xml:space="preserve">26 Apr 12:00</text></g><g shape-rendering="crispEdges" clip-path="url(#c2)"><rect x="12" y="603" width="2" height="95" fill="#C0C0C0"/><rect x="28" y="602" width="2" height="96" fill="#C0C0C0"/><rect x="44" y="603" width="2" height="95" fill="#C0C0C0"/><rect x="60" y="605" width="2" height="93" fill="#C0C0C0"/><rect x="76" y="606" width="2" height="92" fill="#C0C0C0"/><rect x="92" y="623" width="2" height="75" fill="#C0C0C0"/><rect x="108" y="634" width="2" height="64" fill="#C0C0C0"/><rect x="124" y="644" width="2" height="54" fill="#C0C0C0"/><rect x="140" y="651" width="2" height="47" fill="#C0C0C0"/><rect x="156" y="657" width="2" height="41" fill="#C0C0C0"/><rect x="172" y="663" width="2" height="35" fill="#C0C0C0"/><rect x="188" y="672" width="2" height="26" fill="#C0C0C0"/><rect x="204" y="684" width="2" height="14" fill="#C0C0C0"/><rect x="220" y="690" width="2" height="8" fill="#C0C0C0"/><rect x="236" y="698" width="2" height="9" fill="#C0C0C0"/><rect x="252" y="698" width="2" height="19" fill="#C0C0C0"/><rect x="268" y="698" width="2" height="29" fill="#C0C0C0"/><rect x="284" y="698" width="2" height="34" fill="#C0C0C0"/><rect x="300" y="698" width="2" height="36" fill="#C0C0C0"/><rect x="316" y="698" width="2" height="38" fill="#C0C0C0"/><rect x="332" y="698" width="2" height="50" fill="#C0C0C0"/><rect x="348" y="698" width="2" height="57" fill="#C0C0C0"/><rect x="364" y="698" width="2" height="60" fill="#C0C0C0"/><rect x="380" y="698" width="2" height="59" fill="#C0C0C0"/><rect x="396" y="698" width="2" height="56" fill="#C0C0C0"/><rect x="412" y="698" width="2" height="48" fill="#C0C0C0"/><rect x="428" y="698" width="2" height="30" fill="#C0C0C0"/><rect x="444" y="698" width="2" height="8" fill="#C0C0C0"/><rect x="460" y="688" width="2" height="10" fill="#C0C0C0"/><rect x="476" y="669" width="2" height="29" fill="#C0C0C0"/><rect x="492" y="651" width="2" height="47" fill="#C0C0C0"/><rect x="508" y="631" width="2" height="67" fill="#C0C0C0"/><rect x="524" y="616" width="2" height="82" fill="#C0C0C0"/><rect x="540" y="602" width="2" height="96" fill="#C0C0C0"/><rect x="556" y="593" width="2" height="105" fill="#C0C0C0"/><rect x="572" y="593" width="2" height="105" fill="#C0C0C0"/><rect x="588" y="594" width="2" height="104" fill="#C0C0C0"/><rect x="604" y="594" width="2" height="104" fill="#C0C0C0"/><rect x="620" y="593" width="2" height="105" fill="#C0C0C0"/><rect x="636" y="595" width="2" height="103" fill="#C0C0C0"/><rect x="652" y="599" width="2" height="99" fill="#C0C0C0"/><rect x="668" y="604" width="2" height="94" fill="#C0C0C0"/><rect x="684" y="610" width="2" height="88" fill="#C0C0C0"/><rect x="700" y="615" width="2" height="83" fill="#C0C0C0"/><rect x="716" y="619" width="2" height="79" fill="#C0C0C0"/><rect x="732" y="620" width="2" height="78" fill="#C0C0C0"/><rect x="748" y="623" width="2" height="75" fill="#C0C0C0"/><rect x="764" y="627" width="2" height="71" fill="#C0C0C0"/><rect x="780" y="629" width="2" height="69" fill="#C0C0C0"/><rect x="796" y="633" width="2" height="65" fill="#C0C0C0"/><rect x="812" y="636" width="2" height="62" fill="#C0C0C0"/><rect x="828" y="635" width="2" height="63" fill="#C0C0C0"/><rect x="844" y="637" width="2" height="61" fill="#C0C0C0"/><rect x="860" y="646" width="2" height="52" fill="#C0C0C0"/><rect x="876" y="656" width="2" height="42" fill="#C0C0C0"/><rect x="892" y="661" width="2" height="37" fill="#C0C0C0"/><rect x="908" y="664" width="2" height="34" fill="#C0C0C0"/><rect x="924" y="667" width="2" height="31" fill="#C0C0C0"/><rect x="940" y="669" width="2" height="29" fill="#C0C0C0"/><rect x="956" y="672" width="2" height="26" fill="#C0C0C0"/><rect x="972" y="675" width="2" height="23" fill="#C0C0C0"/><rect x="988" y="679" width="2" height="19" fill="#C0C0C0"/><rect x="1004" y="680" width="2" height="18" fill="#C0C0C0"/><rect x="1020" y="681" width="2" height="17" fill="#C0C0C0"/><rect x="1036" y="682" width="2" height="16" fill="#C0C0C0"/><rect x="1052" y="683" width="2" height="15" fill="#C0C0C0"/><rect x="1068" y="688" width="2" height="10" fill="#C0C0C0"/><rect x="1084" y="692" width="2" height="6" fill="#C0C0C0"/><rect x="1100" y="693" width="2" height="5" fill="#C0C0C0"/><rect x="1116" y="694" width="2" height="4" fill="#C0C0C0"/><rect x="1132" y="698" width="2" height="1" fill="#C0C0C0"/><rect x="1148" y="698" width="2" height="2" fill="#C0C0C0"/><rect x="1164" y="698" width="2" height="6" fill="#C0C0C0"/><rect x="1180" y="698" width="2" height="9" fill="#C0C0C0"/><rect x="1196" y="698" width="2" height="10" fill="#C0C0C0"/><rect x="1212" y="698" width="2" height="11" fill="#C0C0C0"/><rect x="1228" y="692" width="2" height="6" fill="#C0C0C0"/><rect x="1244" y="683" width="2" height="15" fill="#C0C0C0"/><rect x="1260" y="683" width="2" height="15" fill="#C0C0C0"/><rect x="1276" y="689" width="2" height="9" fill="#C0C0C0"/><rect x="1292" y="691" width="2" height="7" fill="#C0C0C0"/><rect x="1308" y="698" width="2" height="9" fill="#C0C0C0"/><rect x="1324" y="698" width="2" height="17" fill="#C0C0C0"/><rect x="1340" y="698" width="2" height="29" fill="#C0C0C0"/><rect x="1356" y="698" width="2" height="34" fill="#C0C0C0"/><rect x="1372" y="698" width="2" height="35" fill="#C0C0C0"/><rect x="1388" y="698" width="2" height="32" fill="#C0C0C0"/><rect x="1404" y="698" width="2" height="37" fill="#C0C0C0"/><rect x="1420" y="698" width="2" height="40" fill="#C0C0C0"/><polyline points="-2.5,602.6 13.5,604.6 29.5,606.4 45.5,606.4 61.5,606.4 77.5,606.4 93.5,607.1 109.5,610.9 125.5,613.4 141.5,619.2 157.5,625.2 173.5,632.3 189.5,640.3 205.5,647.8 221.5,657.4 237.5,667.4 253.5,676.2 269.5,685.0 285.5,692.6 301.5,701.4 317.5,710.2 333.5,719.7 349.5,725.8 365.5,734.0 381.5,739.8 397.5,743.3 413.5,746.4 429.5,745.4 445.5,741.8 461.5,737.8 477.5,729.8 493.5,717.7 509.5,704.4 525.5,688.8 541.5,671.2 557.5,655.4 573.5,640.3 589.5,626.0 605.5,617.2 621.5,607.1 637.5,601.4 653.5,598.3 669.5,596.6 685.5,597.6 701.5,600.3 717.5,603.9 733.5,605.1 749.5,608.4 765.5,612.2 781.5,615.9 797.5,619.7 813.5,624.2 829.5,626.2 845.5,629.2 861.5,632.3 877.5,635.8 893.5,639.3 909.5,643.8 925.5,647.8 941.5,651.4 957.5,655.4 973.5,660.4 989.5,664.4 1005.5,669.5 1021.5,672.0 1037.5,674.0 1053.5,676.0 1069.5,678.5 1085.5,681.0 1101.5,684.0 1117.5,686.0 1133.5,688.1 1149.5,690.1 1165.5,691.8 1181.5,694.8 1197.5,698.6 1213.5,700.1 1229.5,700.1 1245.5,699.4 1261.5,698.4 1277.5,696.6 1293.5,696.4 1309.5,696.4 1325.5,697.4 1341.5,699.4 1357.5,702.1 1373.5,705.9 1389.5,711.4 1405.5,717.2 1421.5,721.5" fill="none" stroke="#FF0000" stroke-width="1" stroke-dasharray="3 3"/></g><g shape-rendering="crispEdges" clip-path="url(#c3)"><line x1="0" y1="801.5" x2="1624" y2="801.5" stroke="#C0C0C0" stroke-width="1" stroke-dasharray="3 3" stroke-dashoffset="2"/><line x1="0" y1="848.5" x2="1624" y2="848.5" stroke="#C0C0C0" stroke-width="1" stroke-dasharray="3 3" stroke-dashoffset="2"/><line x1="0" y1="904.5" x2="1624" y2="904.5" stroke="#C0C0C0" stroke-width="1" stroke-dasharray="3 3" stroke-dashoffset="2"/><polyline points="-2.5,816.3 13.5,819.5 29.5,816.3 45.5,817.3 61.5,819.3 77.5,818.3 93.5,851.4 109.5,847.4 125.5,847.7 141.5,845.4 157.5,844.2 173.5,847.9 189.5,855.0 205.5,864.0 221.5,855.2 237.5,873.6 253.5,868.3 269.5,870.5 285.5,865.5 301.5,862.3 317.5,863.5 333.5,877.3 349.5,873.6 365.5,871.6 381.5,863.3 397.5,860.2 413.5,851.4 429.5,832.3 445.5,824.3 461.5,824.3 477.5,819.3 493.5,815.3 509.5,810.5 525.5,810.5 541.5,807.2 557.5,812.5 573.5,822.3 589.5,823.6 605.5,821.3 621.5,819.3 637.5,821.3 653.5,825.3 669.5,826.6 685.5,832.3 701.5,829.3 717.5,827.3 733.5,823.3 749.5,826.3 765.5,831.3 781.5,826.3 797.5,830.3 813.5,829.3 829.5,821.0 845.5,829.8 861.5,848.4 877.5,851.4 893.5,846.4 909.5,841.1 925.5,842.4 941.5,840.4 957.5,846.4 973.5,845.4 989.5,847.7 1005.5,843.4 1021.5,841.1 1037.5,844.4 1053.5,844.4 1069.5,857.5 1085.5,855.2 1101.5,847.4 1117.5,851.4 1133.5,858.5 1149.5,849.4 1165.5,862.3 1181.5,857.5 1197.5,855.2 1213.5,856.8 1229.5,820.4 1245.5,828.6 1261.5,844.6 1277.5,854.5 1293.5,850.0 1309.5,868.6 1325.5,863.5 1341.5,868.6 1357.5,861.3 1373.5,858.4 1389.5,852.2 1405.5,861.5 1421.5,861.5" fill="none" stroke="#1E90FF" stroke-width="1"/></g><g><text x="996.6" y="328.6" font-family="Liberation Serif, Noto Serif CJK SC, serif" font-weight="bold" font-size="33" textLength="160" lengthAdjust="spacingAndGlyphs" fill="#0a2a0a">多空转折点</text><text x="1160.3" y="327.7" font-family="Liberation Sans, sans-serif" font-weight="bold" font-size="33" textLength="118.6" lengthAdjust="spacingAndGlyphs" fill="#0a2a0a">111.669</text><text x="995.6" y="327.6" font-family="Liberation Serif, Noto Serif CJK SC, serif" font-weight="bold" font-size="33" textLength="160" lengthAdjust="spacingAndGlyphs" fill="#00FF00">多空转折点</text><text x="1159.3" y="326.7" font-family="Liberation Sans, sans-serif" font-weight="bold" font-size="33" textLength="118.6" lengthAdjust="spacingAndGlyphs" fill="#00FF00">111.669</text></g></svg>

<div style="position:absolute;left:0;top:48px;width:52px;height:25px;background:linear-gradient(#5a5afa,#3c3ce2);box-sizing:border-box;border:1px solid #2a2ad0;border-bottom:none"></div>
<div style="position:absolute;left:167px;top:48px;width:52px;height:25px;background:linear-gradient(#5a5afa,#3c3ce2);box-sizing:border-box;border:1px solid #2a2ad0;border-bottom:none"></div>
<div style="position:absolute;left:0;top:72px;width:109px;height:40px;background:linear-gradient(#3a3ae0,#0a0ac0 60%,#0000b0);box-sizing:border-box;border:1px solid #2020c0;border-top:none"></div>
<div style="position:absolute;left:111px;top:72px;width:108px;height:40px;background:linear-gradient(#3a3ae0,#0a0ac0 60%,#0000b0);box-sizing:border-box;border:1px solid #2020c0;border-top:none"></div>
<div style="position:absolute;left:4px;top:71px;width:44px;height:1px;background:#2828b8"></div>
<div style="position:absolute;left:4px;top:72px;width:44px;height:1px;background:#7070f0"></div>
<div style="position:absolute;left:171px;top:71px;width:44px;height:1px;background:#2828b8"></div>
<div style="position:absolute;left:171px;top:72px;width:44px;height:1px;background:#7070f0"></div>
<div style="position:absolute;left:54px;top:48px;width:111px;height:22px;box-sizing:border-box;border:1px solid #b4b4b4;background:#fff"></div>
<div style="position:absolute;left:55px;top:49px;width:20px;height:20px;background:#e9e9e9;border-right:1px solid #b4b4b4"></div>
<div style="position:absolute;left:143px;top:49px;width:21px;height:20px;background:#e9e9e9;border-left:1px solid #b4b4b4;box-sizing:border-box"></div>
<svg style="position:absolute;left:0;top:0" width="230" height="120"><path d="M62 57 h6 l-3 3.5z M151 60 h6 l-3 -3.5z" fill="#000"/></svg>
<svg style="position:absolute;left:0;top:0" width="230" height="120" font-family="Liberation Sans, sans-serif" fill="#fff">
<text x="12.2" y="64.1" font-size="12.6" textLength="26.2" lengthAdjust="spacingAndGlyphs">SELL</text>
<text x="179.6" y="64.1" font-size="12.6" textLength="24.4" lengthAdjust="spacingAndGlyphs">BUY</text>
<text x="116.3" y="62.7" font-size="12" fill="#222" textLength="23.6" lengthAdjust="spacingAndGlyphs">1.00</text>
<text x="23" y="103" font-size="12.4" font-weight="bold" textLength="20.6" lengthAdjust="spacingAndGlyphs">111</text>
<text x="48.2" y="103" font-size="32.7" textLength="35.4" lengthAdjust="spacingAndGlyphs">59</text>
<text x="87.6" y="87.2" font-size="11.9" font-weight="bold">6</text>
<text x="133.2" y="103" font-size="12.4" font-weight="bold" textLength="20.6" lengthAdjust="spacingAndGlyphs">111</text>
<text x="157.6" y="103" font-size="32.7" textLength="35.4" lengthAdjust="spacingAndGlyphs">61</text>
<text x="197.7" y="87.2" font-size="11.9" font-weight="bold">3</text>
</svg>

<svg width="1671" height="26" viewBox="0 0 1671 26" style="position:absolute;left:0;top:0">
<defs>
<linearGradient id="gG" x1="0" y1="0" x2="0" y2="1"><stop offset="0" stop-color="#30e840"/><stop offset="1" stop-color="#008a10"/></linearGradient>
<linearGradient id="gY" x1="0" y1="0" x2="1" y2="1"><stop offset="0" stop-color="#fbd94a"/><stop offset="0.6" stop-color="#e6a817"/><stop offset="1" stop-color="#b87a14"/></linearGradient>
<linearGradient id="gB" x1="0" y1="0" x2="0" y2="1"><stop offset="0" stop-color="#eaf4fe"/><stop offset="1" stop-color="#b9d8f6"/></linearGradient>
<pattern id="grip" x="0" y="0" width="4" height="2" patternUnits="userSpaceOnUse"><rect x="0" y="0" width="4" height="1" fill="#a6a6a6"/></pattern>
<g id="axes"><path d="M2.5 2V14.8 M0 12.5H12.5" fill="none" stroke="#555" stroke-width="1.3"/><path d="M2.5 0.6L0.5 3.4H4.5Z M14.2 12.5L11.4 10.5V14.5Z" fill="#555"/></g>
<path id="dd" d="M0 0h6l-3 3.5z" fill="#000"/>
</defs>
<!-- selected button backgrounds -->
<g shape-rendering="crispEdges">
<g id="selbg">
<rect x="259" y="0" width="26" height="22" fill="#f8f8f8"/><rect x="259" y="0" width="26" height="1" fill="#b0b0b0"/><rect x="259" y="0" width="1" height="22" fill="#b0b0b0"/>
</g>
<rect x="411" y="0" width="25" height="22" fill="#f8f8f8"/><rect x="411" y="0" width="25" height="1" fill="#b0b0b0"/><rect x="411" y="0" width="1" height="22" fill="#b0b0b0"/>
<rect x="439" y="0" width="25" height="22" fill="#f8f8f8"/><rect x="439" y="0" width="25" height="1" fill="#b0b0b0"/><rect x="439" y="0" width="1" height="22" fill="#b0b0b0"/>
<rect x="599" y="0" width="25" height="22" fill="#f8f8f8"/><rect x="599" y="0" width="25" height="1" fill="#b0b0b0"/><rect x="599" y="0" width="1" height="22" fill="#b0b0b0"/>
<rect x="1045" y="0" width="25" height="22" fill="#f8f8f8"/><rect x="1045" y="0" width="25" height="1" fill="#b0b0b0"/><rect x="1045" y="0" width="1" height="22" fill="#b0b0b0"/>
<!-- separators -->
<rect x="221" y="0" width="1" height="24" fill="#a0a0a0"/><rect x="222" y="0" width="1" height="24" fill="#fcfcfc"/>
<rect x="316" y="1" width="1" height="21" fill="#a0a0a0"/>
<rect x="406" y="1" width="1" height="21" fill="#a0a0a0"/>
<rect x="468" y="1" width="1" height="21" fill="#a0a0a0"/>
<rect x="589" y="0" width="1" height="24" fill="#a0a0a0"/><rect x="590" y="0" width="1" height="24" fill="#fcfcfc"/>
<rect x="656" y="1" width="1" height="21" fill="#a0a0a0"/>
<rect x="895" y="0" width="1" height="24" fill="#8c8c8c"/><rect x="896" y="0" width="1" height="24" fill="#fcfcfc"/>
<rect x="1156" y="0" width="1" height="24" fill="#8c8c8c"/><rect x="1157" y="0" width="1" height="24" fill="#fcfcfc"/>
<!-- grips -->
<rect x="225" y="2" width="3" height="20" fill="url(#grip)"/>
<rect x="593" y="2" width="3" height="20" fill="url(#grip)"/>
<rect x="899" y="2" width="3" height="20" fill="url(#grip)"/>
</g>
<!-- new order -->
<path d="M-4 4.5H3.5L6.5 7.5V19H-4Z" fill="#fff" stroke="#8a8a8a"/><path d="M3.5 4.5V7.5H6.5" fill="#e0e0e0" stroke="#8a8a8a"/><path d="M-2 12.5H2" stroke="#9a9a9a"/>
<path d="M3.4 10.2h3.6v4h3.8v3.6h-3.8v4h-3.6v-4h-4.4v-3.6h4.4z" fill="url(#gG)" stroke="#0f9a1f" stroke-width="0.6"/><path d="M4.6 11.2v9.6M-0.2 15.4h10.2" stroke="#8cf89a" stroke-width="0.9" opacity="0.8"/>
<text x="13.6" y="14.6" font-family="Liberation Sans, Noto Sans CJK SC, sans-serif" font-size="12.2" fill="#000" stroke="#000" stroke-width="0.3" textLength="36.6" lengthAdjust="spacingAndGlyphs">新订单</text>
<!-- book -->
<path d="M67.8 5 L78 12.8 L69.6 19.8 L61.8 13.6 Z" fill="url(#gY)" stroke="#b07818" stroke-width="1"/><path d="M69.8 19.6 L78 13.2 L78 14.6 L70 21 L62 15 L62 13.8" fill="#e8d8a0" stroke="#b07818" stroke-width="0.8"/>
<!-- server+cloud -->
<path d="M92.3 6.2 L95.2 4.4 H102.8 V13.5 H95.2 L92.3 12 Z" fill="#1e90ff" stroke="#1c74d8" stroke-width="0.7"/><path d="M92.3 6.2 L95.2 4.4 V13.5 L92.3 12Z" fill="#4aa8ff"/><path d="M95.2 4.4 V13.5" stroke="#cfe8ff" stroke-width="0.7"/><rect x="96.6" y="7.2" width="5.2" height="1.5" fill="#e4f2ff"/><rect x="96.6" y="9.8" width="5.2" height="3" fill="#f2f9ff"/>
<path d="M93.4 19.6 a2.9 2.9 0 0 1 -0.5 -5.7 a3.3 3.3 0 0 1 5.9 -1.0 a2.7 2.7 0 0 1 4.3 1.6 a2.6 2.6 0 0 1 -0.3 5.1 Z" fill="url(#gB)" stroke="#4a6eb4" stroke-width="0.9"/>
<!-- radar -->
<g fill="none"><circle cx="126.3" cy="11.8" r="7.6" stroke="#6c8fdc" stroke-width="1.1" opacity="0.85"/><circle cx="126.3" cy="11.8" r="5" stroke="#6c8fdc" stroke-width="1.1" opacity="0.8"/><circle cx="126.3" cy="11.8" r="2.6" stroke="#7ea0e4" stroke-width="1" opacity="0.7"/></g>
<path d="M126.3 11.8 L126.3 19.8 A8 8 0 0 0 131 5.4 Z" fill="#58b858" opacity="0.55"/><circle cx="126.2" cy="11.4" r="1.7" fill="#2858d0"/><path d="M126.6 12V19.6" stroke="#20a020" stroke-width="1.2"/>
<!-- expert -->
<path d="M146 10.5 L160 10.5 L160.6 12.4 L153.4 19.9 L151.6 19.6 Z" fill="#fbe262" stroke="#d8a410" stroke-width="0.8"/>
<ellipse cx="153" cy="9.4" rx="8.1" ry="2.7" fill="#4f9fd8" stroke="#2c80bc" stroke-width="0.7"/>
<path d="M148.6 8.8 C148.6 3 157.4 3 157.4 8.8 C155 10.2 151 10.2 148.6 8.8Z" fill="#6cbcec" stroke="#2c86c0" stroke-width="0.7"/>
<circle cx="157.5" cy="15.7" r="4.3" fill="#e02810" stroke="#b01808" stroke-width="0.6"/><rect x="156" y="14.2" width="3" height="3" fill="#fff"/>
<text x="166.6" y="15" font-family="Liberation Sans, Noto Sans CJK SC, sans-serif" font-size="11.8" fill="#000" stroke="#000" stroke-width="0.3" textLength="47.2" lengthAdjust="spacingAndGlyphs">自动交易</text>
<!-- chart type icons -->
<use href="#axes" x="237" y="5"/>
<path d="M245.5 7V15.6 M245.5 8.2h2.7 M242.8 14.4h2.7" stroke="#0b8a12" stroke-width="1.4" fill="none"/>
<use href="#axes" x="265" y="5"/>
<path d="M273.5 4V16" stroke="#0a7a14" stroke-width="1"/><rect x="271.5" y="6.5" width="4" height="7" fill="#3cdc4c" stroke="#0a8a1a" stroke-width="1"/>
<use href="#axes" x="293" y="5"/>
<path d="M294.5 14.5 C296.5 11 298.5 9 300.5 9 C302.5 9 304 11.5 306 13" stroke="#1e9a2e" stroke-width="1.2" fill="none"/>
<!-- zoom in/out -->
<g><path d="M334.8 13.6 L339.2 18.2" stroke="#b98a14" stroke-width="3.4" stroke-linecap="round"/><path d="M334.8 13.6 L339.2 18.2" stroke="#f0cc40" stroke-width="1.8" stroke-linecap="round"/><circle cx="331.3" cy="9.9" r="5.3" fill="#d4ebfb" stroke="#3c82cc" stroke-width="1.5"/><path d="M328.2 9.9h6M331.2 6.9v6" stroke="#3a80b4" stroke-width="1.7"/></g>
<g><path d="M362.6 13.6 L367 18.2" stroke="#b98a14" stroke-width="3.4" stroke-linecap="round"/><path d="M362.6 13.6 L367 18.2" stroke="#f0cc40" stroke-width="1.8" stroke-linecap="round"/><circle cx="358.9" cy="9.9" r="5.3" fill="#d4ebfb" stroke="#3c82cc" stroke-width="1.5"/><path d="M355.9 9.9h6" stroke="#3a80b4" stroke-width="1.7"/></g>
<!-- tile -->
<g shape-rendering="crispEdges"><rect x="381" y="4" width="8" height="8" fill="#3aa018"/><rect x="389" y="4" width="8" height="8" fill="#1c50c8"/><rect x="381" y="12" width="8" height="8" fill="#1c50c8"/><rect x="389" y="12" width="8" height="8" fill="#3aa018"/>
<rect x="382" y="7" width="6" height="4" fill="#e8f4e0"/><rect x="390" y="7" width="6" height="4" fill="#dce8fc"/><rect x="382" y="15" width="6" height="4" fill="#dce8fc"/><rect x="390" y="15" width="6" height="4" fill="#e8f4e0"/>
<rect x="383" y="9" width="4" height="1" fill="#3aa018"/><rect x="391" y="9" width="4" height="1" fill="#1c50c8"/><rect x="383" y="17" width="4" height="1" fill="#1c50c8"/><rect x="391" y="17" width="4" height="1" fill="#3aa018"/></g>
<!-- autoscroll / shift -->
<use href="#axes" x="417" y="5"/><path d="M424.3 8.6 L428 11.6 L424.3 14.7 Z" fill="#c8f4c8" stroke="#1ea02e" stroke-width="1"/>
<use href="#axes" x="445" y="5"/><path d="M453.6 6V15.8" stroke="#1c6ca8" stroke-width="1.3"/><path d="M455 11.5h4 M455 11.5l2.2-2.2 M455 11.5l2.2 2.2" stroke="#d84010" stroke-width="1.1" fill="none"/>
<!-- new chart -->
<path d="M478.5 5H485.5L488.5 8V17H478.5Z" fill="#fff" stroke="#8a8a8a"/><path d="M485.5 5V8H488.5" fill="#e4e4e4" stroke="#8a8a8a"/><path d="M481 8.5v6M481 9h2M481 12h2" stroke="#9a9a9a" stroke-width="0.8" fill="none"/>
<path d="M486.2 10.3h3.6v3.8h4.1v3.6h-4.1v4.1h-3.6v-4.1h-3.8v-3.6h3.8z" fill="url(#gG)" stroke="#0f9a1f" stroke-width="0.6"/><path d="M487.3 11.2v9.6M483.2 15.4h9.8" stroke="#8cf89a" stroke-width="0.9" opacity="0.8"/>
<use href="#dd" x="500" y="11"/>
<!-- clock -->
<circle cx="523.9" cy="12" r="8.1" fill="#1c5ccc"/><circle cx="523.9" cy="12" r="7.1" fill="#4a98ec"/><circle cx="523.9" cy="12" r="5.5" fill="#fff" stroke="#cfe0f4" stroke-width="0.6"/><path d="M523.4 8.2V12.3H526.6" stroke="#303030" stroke-width="1.1" fill="none"/><path d="M523.9 7.1v0.9M523.9 16v0.9M519 12h0.9M527.9 12h0.9" stroke="#909090" stroke-width="0.8"/>
<use href="#dd" x="539" y="11"/>
<!-- template -->
<rect x="555.5" y="5.4" width="15.2" height="13.2" fill="#fff" stroke="#3f78d0"/><rect x="555.5" y="5.4" width="15.2" height="2.4" fill="#5b94e4" stroke="#3f78d0"/><path d="M557.2 11.6l2.4-.2 1.6-1.4 2 .8 2.4-1.2 2 .6 1.6-.8" stroke="#b02010" stroke-width="1.1" fill="none"/><path d="M556 13.2h14.2" stroke="#3f78d0" stroke-width="0.9"/><path d="M557.6 16.4l2.2-.4 1.8-1.2 1.8.8 2.2-1.8 2 1.8 1.4.6" stroke="#18902a" stroke-width="1.1" fill="none"/>
<use href="#dd" x="577.5" y="11"/>
<!-- cursor -->
<path d="M606.7 4.6 V17 L609.6 14.2 L611.8 19 L613.8 18 L611.7 13.6 L615.4 13.4 Z" fill="#3c3c3c"/>
<!-- crosshair -->
<path d="M639.5 5V20 M632 12.5H647" stroke="#505050" stroke-width="1" shape-rendering="crispEdges"/>
<!-- lines -->
<path d="M673.5 6V18.5 M696 12.5H708" stroke="#505050" stroke-width="1.1" shape-rendering="crispEdges"/>
<path d="M723.6 18.7L735.9 6.8" stroke="#505050" stroke-width="1.1"/>
<!-- channel -->
<g stroke="#484848" stroke-width="1.15" fill="none"><path d="M750 13.5L761 5 M752.5 18L763.5 9.5 M754.2 6.2l-1.6 10.5 M757.4 5.5l-1.6 10.5 M760.6 4l-1.6 10.5"/></g>
<text x="760.6" y="21" font-family="Liberation Sans, sans-serif" font-weight="bold" font-size="7" fill="#404040">E</text>
<!-- fibo -->
<g stroke="#505050" stroke-width="1" stroke-dasharray="1 1" shape-rendering="crispEdges"><path d="M779 5.5h14M779 8.5h14M779 12.5h14M779 16.5h10"/></g>
<text x="788.6" y="21" font-family="Liberation Sans, sans-serif" font-weight="bold" font-size="7" fill="#404040">F</text>
<!-- A, T -->
<text x="809.3" y="17" font-family="Liberation Sans, sans-serif" font-size="12" fill="#555" stroke="#555" stroke-width="0.3">A</text>
<rect x="836" y="5.5" width="12" height="13" fill="none" stroke="#606060" stroke-dasharray="1 1" shape-rendering="crispEdges"/>
<text x="838.5" y="16.4" font-family="Liberation Sans, sans-serif" font-size="10.6" fill="#555" stroke="#555" stroke-width="0.35">T</text>
<!-- arrows icon -->
<path d="M866.4 6 L870 8.6 L866.4 10.8 L862.8 8.6Z M873.9 14 L877.4 16.2 L873.9 18.8 L870.4 16.2Z" fill="#4a4a4a"/><path d="M865.4 12.8l2.2 2.6 4-5" stroke="#4a4a4a" stroke-width="1.2" fill="none"/>
<use href="#dd" x="883.5" y="11"/>
<!-- periods -->
<g font-family="Liberation Sans, sans-serif" font-size="10.1" fill="#4c4c4c" style="text-rendering:geometricPrecision">
<text x="910.5" y="16" textLength="12.6" lengthAdjust="spacingAndGlyphs">M1</text><text x="938.5" y="16" textLength="12.6" lengthAdjust="spacingAndGlyphs">M5</text><text x="964.5" y="16" textLength="17.8" lengthAdjust="spacingAndGlyphs">M15</text><text x="992.3" y="16" textLength="17.8" lengthAdjust="spacingAndGlyphs">M30</text><text x="1023.5" y="16" textLength="11.8" lengthAdjust="spacingAndGlyphs">H1</text><text x="1050.5" y="16" textLength="12.4" lengthAdjust="spacingAndGlyphs">H4</text><text x="1079.5" y="16" textLength="11.8" lengthAdjust="spacingAndGlyphs">D1</text><text x="1107" y="16" textLength="14.6" lengthAdjust="spacingAndGlyphs">W1</text><text x="1133.5" y="16" textLength="14.8" lengthAdjust="spacingAndGlyphs">MN</text>
</g>
<!-- search + chat -->
<path d="M1622.6 13.2 L1618.8 17" stroke="#2a56c8" stroke-width="2.4" stroke-linecap="round"/><circle cx="1625.9" cy="10" r="4.2" fill="#fff" stroke="#2a56c8" stroke-width="1.6"/>
<path d="M1659.5 4 a6 5 0 1 1 -1.5 9.8 l0.5 2.4 l-2.6 -3 a6 5 0 0 1 3.6 -9.2z" fill="#fafafa" stroke="#9a9a9a" stroke-width="0.9"/>
<path d="M1650.6 9.2 a5 4.4 0 1 0 1.4 8.6 l2.4 1.8 l-0.4 -2.6 a5 4.4 0 0 0 -3.4 -7.8z" fill="#fafafa" stroke="#9a9a9a" stroke-width="0.9"/>
</svg>

</body></html>
